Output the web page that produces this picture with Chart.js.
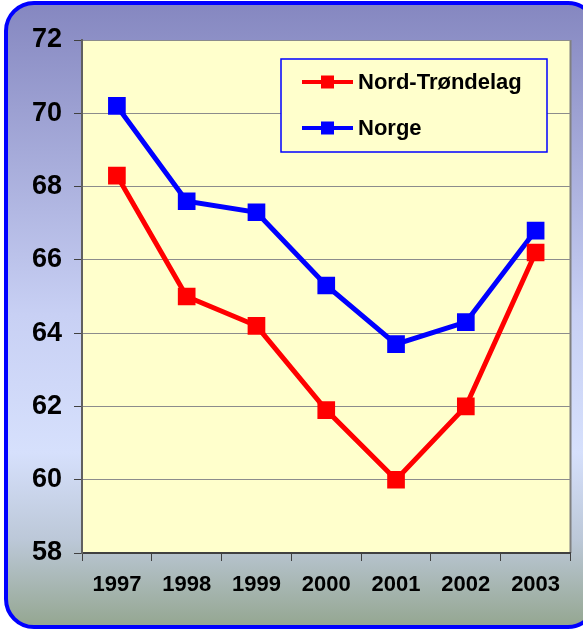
<!DOCTYPE html>
<html>
<head>
<meta charset="utf-8" />
<title>Nord-Trøndelag / Norge</title>
<script src="https://cdn.jsdelivr.net/npm/chart.js@4"></script>
<style>
    html, body { margin: 0; padding: 0; background: #ffffff; }
    #wrap { width: 583px; height: 630px; }
</style>
</head>
<body>
<div id="wrap"><canvas id="myChart" width="583" height="630"></canvas></div>

<script>
// data
const years = ['1997', '1998', '1999', '2000', '2001', '2002', '2003'];
const nordTrondelag = [68.3, 65.0, 64.2, 61.9, 60.0, 62.0, 66.2];
const norge = [70.2, 67.6, 67.3, 65.3, 63.7, 64.3, 66.8];
const seriesNames = ['Nord-Trøndelag', 'Norge'];
const yMin = 58, yMax = 72, yStep = 2;

const FONT = 'Arial, "Liberation Sans", sans-serif';

// rounded frame with gradient + yellow plot area
const backdrop = {
    id: 'backdrop',
    beforeDraw(chart) {
        const ctx = chart.ctx;
        const a = chart.chartArea;
        ctx.save();
        const g = ctx.createLinearGradient(0, 3, 0, 627);
        g.addColorStop(0, '#8587c0');
        g.addColorStop(0.5, '#c8d0f4');
        g.addColorStop(0.72, '#d6e0fc');
        g.addColorStop(0.86, '#bcc8d8');
        g.addColorStop(1, '#94a690');
        ctx.beginPath();
        ctx.roundRect(6, 3, 590, 624, 28);
        ctx.fillStyle = g;
        ctx.fill();
        ctx.lineWidth = 4;
        ctx.strokeStyle = '#0000ff';
        ctx.stroke();

        ctx.fillStyle = '#ffffcc';
        ctx.fillRect(a.left, a.top, a.right - a.left, a.bottom - a.top);
        ctx.strokeStyle = '#808080';
        ctx.lineWidth = 2;
        ctx.beginPath();
        ctx.moveTo(a.right, a.top);
        ctx.lineTo(a.right, a.bottom);
        ctx.stroke();
        ctx.restore();
    }
};

// legend box inside the plot, top right
const boxLegend = {
    id: 'boxLegend',
    afterDatasetsDraw(chart) {
        const ctx = chart.ctx;
        const bx = 281, by = 59, bw = 266, bh = 93;
        ctx.save();
        ctx.fillStyle = '#ffffcc';
        ctx.fillRect(bx, by, bw, bh);
        ctx.strokeStyle = '#0000ff';
        ctx.lineWidth = 1.5;
        ctx.strokeRect(bx, by, bw, bh);
        chart.data.datasets.forEach(function (ds, i) {
            const y = by + 23 + i * 46;
            ctx.strokeStyle = ds.borderColor;
            ctx.lineWidth = 4;
            ctx.beginPath();
            ctx.moveTo(302, y);
            ctx.lineTo(353, y);
            ctx.stroke();
            ctx.fillStyle = ds.borderColor;
            ctx.fillRect(321, y - 6.5, 13, 13);
            ctx.fillStyle = '#000000';
            ctx.font = 'bold 22px ' + FONT;
            ctx.textBaseline = 'middle';
            ctx.fillText(ds.label, 358, y + 1);
        });
        ctx.restore();
    }
};

const ctx = document.getElementById('myChart').getContext('2d');
const chart = new Chart(ctx, {
    type: 'line',
    data: {
        labels: years,
        datasets: [{
            label: seriesNames[0],
            data: nordTrondelag,
            borderColor: '#ff0000',
            backgroundColor: '#ff0000',
            borderWidth: 5,
            pointStyle: 'rect',
            pointRadius: 12.5,
            pointBorderWidth: 0,
            tension: 0
        }, {
            label: seriesNames[1],
            data: norge,
            borderColor: '#0000ff',
            backgroundColor: '#0000ff',
            borderWidth: 5,
            pointStyle: 'rect',
            pointRadius: 12.5,
            pointBorderWidth: 0,
            tension: 0
        }]
    },
    options: {
        responsive: false,
        animation: false,
        layout: { padding: { top: 40, right: 11, left: 0, bottom: 0 } },
        plugins: {
            legend: { display: false },
            tooltip: { enabled: false }
        },
        scales: {
            x: {
                offset: true,
                grid: {
                    offset: true,
                    drawOnChartArea: false,
                    tickLength: 8,
                    color: '#404040'
                },
                border: { color: '#404040', width: 2 },
                ticks: {
                    color: '#000000',
                    font: { family: FONT, size: 22, weight: 'bold' },
                    padding: 11,
                    maxRotation: 0
                },
                afterFit(scale) { scale.height = 77; }
            },
            y: {
                min: yMin,
                max: yMax,
                ticks: {
                    stepSize: yStep,
                    color: '#000000',
                    font: { family: FONT, size: 27, weight: 'bold' },
                    padding: 12
                },
                grid: {
                    color: '#8c8c8c',
                    lineWidth: 1,
                    tickLength: 8,
                    tickColor: '#404040'
                },
                border: { color: '#606060', width: 2 },
                afterFit(scale) { scale.width = 82; }
            }
        }
    },
    plugins: [backdrop, boxLegend]
});
</script>
</body>
</html>
